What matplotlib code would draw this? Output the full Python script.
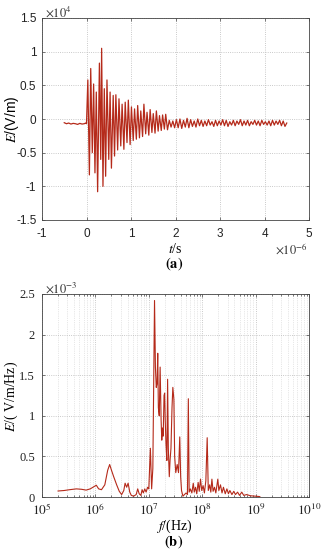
import math
import matplotlib
matplotlib.use("Agg")
import matplotlib.pyplot as plt
from matplotlib.ticker import FixedLocator, LogLocator, NullFormatter

# time-domain field, t in 1e-6 s, E in 1e4 V/m (extrema)
pre_t = [-0.50, -0.45, -0.40, -0.35, -0.30, -0.25, -0.20, -0.15, -0.10, -0.05, -0.02]
pre_e = [-0.055, -0.07, -0.06, -0.075, -0.065, -0.07, -0.08, -0.065, -0.075, -0.07, -0.06]

burst_t = [0.00, 0.03, 0.065, 0.095, 0.13, 0.16, 0.19, 0.22, 0.25, 0.29,
           0.32, 0.34, 0.37, 0.40, 0.43, 0.46, 0.50, 0.53, 0.56, 0.60,
           0.63, 0.66, 0.70, 0.73, 0.77, 0.80, 0.84, 0.87, 0.91, 0.94,
           0.98, 1.01, 1.05, 1.08, 1.12, 1.15, 1.19, 1.22, 1.26, 1.29,
           1.33, 1.36, 1.40, 1.43, 1.47, 1.50, 1.54, 1.57, 1.61, 1.64,
           1.68, 1.71, 1.75, 1.78, 1.82, 1.86, 1.90, 1.94, 1.98]
burst_e = [-0.07, 0.58, -0.83, 0.75, -0.50, 0.52, -0.80, 0.40, -1.08, 0.83,
           -0.60, 1.05, -1.00, 0.45, -0.85, 0.58, -0.60, 0.40, -0.73, 0.35,
           -0.55, 0.36, -0.46, 0.30, -0.40, 0.22, -0.45, 0.25, -0.35, 0.28,
           -0.38, 0.18, -0.32, 0.15, -0.30, 0.20, -0.28, 0.12, -0.26, 0.22,
           -0.22, 0.10, -0.24, 0.14, -0.20, 0.08, -0.21, 0.12, -0.18, 0.05,
           -0.17, 0.06, -0.15, 0.07, -0.16, -0.02, -0.12, -0.03, -0.13]

tail_t = [2.02, 2.06, 2.10, 2.14, 2.18, 2.22, 2.26, 2.30, 2.34, 2.38,
          2.42, 2.46, 2.50, 2.54, 2.58, 2.62, 2.66, 2.70, 2.74, 2.78,
          2.82, 2.86, 2.90, 2.94, 2.98, 3.02, 3.06, 3.10, 3.14, 3.18,
          3.22, 3.26, 3.30, 3.34, 3.38, 3.42, 3.46, 3.50, 3.54, 3.58,
          3.62, 3.66, 3.70, 3.74, 3.78, 3.82, 3.86, 3.90, 3.94, 3.98,
          4.02, 4.06, 4.10, 4.14, 4.18, 4.22, 4.26, 4.30, 4.34, 4.38,
          4.42, 4.46, 4.50]
tail_e = [-0.01, -0.13, 0.00, -0.14, -0.02, -0.12, 0.01, -0.13, -0.01, -0.11,
          -0.03, -0.12, 0.00, -0.10, -0.02, -0.11, -0.03, -0.10, -0.01, -0.09,
          -0.04, -0.11, -0.02, -0.10, -0.03, -0.09, -0.01, -0.10, -0.02, -0.11,
          -0.04, -0.09, -0.02, -0.10, -0.03, -0.08, -0.01, -0.10, -0.03, -0.09,
          -0.02, -0.10, -0.04, -0.08, -0.02, -0.09, -0.03, -0.10, -0.02, -0.08,
          -0.04, -0.09, -0.03, -0.10, -0.02, -0.09, -0.03, -0.08, -0.02, -0.10,
          -0.03, -0.11, -0.06]

# spectrum, f in Hz, amplitude in 1e-3 V/m/Hz
freq = [2.0e5, 2.6e5, 3.3e5, 4.4e5, 5.5e5, 6.7e5, 8.0e5, 9.0e5, 1.04e6, 1.15e6,
        1.3e6, 1.5e6, 1.7e6, 1.85e6, 2.0e6, 2.2e6, 2.5e6, 2.8e6, 3.1e6, 3.4e6,
        3.6e6, 3.85e6, 4.1e6, 4.4e6, 4.7e6, 5.2e6, 5.8e6, 6.2e6, 6.6e6, 7.1e6,
        7.5e6, 7.9e6, 8.4e6, 8.9e6, 9.5e6, 1.0e7, 1.07e7, 1.13e7, 1.19e7, 1.28e7,
        1.33e7, 1.38e7, 1.43e7, 1.47e7, 1.51e7, 1.57e7, 1.63e7, 1.70e7, 1.75e7, 1.80e7,
        1.86e7, 1.93e7, 1.98e7, 2.03e7, 2.10e7, 2.18e7, 2.25e7, 2.32e7, 2.42e7, 2.50e7,
        2.60e7, 2.72e7, 2.82e7, 2.95e7, 3.05e7, 3.20e7, 3.40e7, 3.60e7, 3.80e7, 3.95e7,
        4.10e7, 4.35e7, 4.65e7, 5.0e7, 5.3e7, 5.5e7, 5.7e7, 6.0e7, 6.4e7, 6.8e7,
        7.1e7, 7.5e7, 7.9e7, 8.4e7, 8.8e7, 9.3e7, 9.8e7, 1.04e8, 1.10e8, 1.17e8,
        1.24e8, 1.30e8, 1.38e8, 1.45e8, 1.52e8, 1.60e8, 1.70e8, 1.80e8, 1.96e8, 2.05e8,
        2.2e8, 2.35e8, 2.5e8, 2.7e8, 2.9e8, 3.1e8, 3.3e8, 3.6e8, 3.9e8, 4.2e8,
        4.6e8, 5.0e8, 5.5e8, 6.0e8, 6.8e8, 8.0e8, 1.0e9, 1.2e9]
amp = [0.074, 0.08, 0.09, 0.10, 0.095, 0.085, 0.10, 0.12, 0.145, 0.10,
       0.09, 0.15, 0.33, 0.40, 0.33, 0.25, 0.15, 0.07, 0.03, 0.08,
       0.17, 0.12, 0.17, 0.06, 0.02, 0.01, 0.03, 0.10, 0.04, 0.02,
       0.09, 0.05, 0.10, 0.06, 0.12, 0.10, 0.60, 0.10, 0.35, 2.42,
       1.60, 1.35, 1.40, 1.77, 1.10, 1.00, 1.60, 0.95, 0.70, 0.85,
       0.75, 1.25, 1.28, 0.95, 0.65, 0.45, 1.45, 0.60, 0.25, 0.45,
       0.60, 1.10, 1.35, 1.20, 0.50, 0.30, 0.40, 0.30, 0.74, 0.25,
       0.08, 0.01, 0.03, 0.05, 0.03, 1.21, 0.06, 0.10, 0.05, 0.17,
       0.06, 0.12, 0.04, 0.18, 0.07, 0.22, 0.08, 0.14, 0.05, 0.20,
       0.73, 0.08, 0.15, 0.06, 0.22, 0.07, 0.12, 0.05, 0.22, 0.08,
       0.15, 0.05, 0.12, 0.04, 0.10, 0.04, 0.08, 0.03, 0.07, 0.03,
       0.06, 0.02, 0.06, 0.02, 0.03, 0.015, 0.01, 0.005]

top_yticks = [-1.5, -1, -0.5, 0, 0.5, 1, 1.5]
top_xticks = [-1, 0, 1, 2, 3, 4, 5]
bot_yticks = [0, 0.5, 1, 1.5, 2, 2.5]
bot_xticks = [1e5, 1e6, 1e7, 1e8, 1e9, 1e10]

line_color = "#b52a1a"
grid_kw = dict(color="#b8b8b8", linestyle=":", linewidth=0.6)
sans = ["Liberation Sans", "DejaVu Sans"]
serif = ["Liberation Serif", "DejaVu Serif"]
plt.rcParams["mathtext.fontset"] = "stix"

W, H = 323, 550
fig = plt.figure(figsize=(W / 100, H / 100), dpi=100)

# (a) time domain
ax1 = fig.add_axes([42 / W, 1 - 220 / H, 267 / W, 202 / H])
t = pre_t + burst_t + tail_t
e = pre_e + burst_e + tail_e
ax1.plot(t, e, color=line_color, linewidth=0.9)
ax1.set_xlim(-1, 5)
ax1.set_ylim(-1.5, 1.5)
ax1.xaxis.set_major_locator(FixedLocator(top_xticks))
ax1.yaxis.set_major_locator(FixedLocator(top_yticks))
ax1.set_xticklabels(["%g" % v for v in top_xticks], family=sans, fontsize=8.5)
ax1.set_yticklabels(["%g" % v for v in top_yticks], family=sans, fontsize=8.5)
ax1.grid(True, **grid_kw)
ax1.set_axisbelow(True)
fig.text(45 / W, 1 - 12 / H, r"$\times10^{4}$", fontsize=9, ha="left", va="center",
         color="#333333")
fig.text(308 / W, 1 - 250 / H, r"$\times10^{-6}$", fontsize=9, ha="right", va="center",
         color="#333333")
fig.text(175 / W, 1 - 249 / H, r"$t$/s", family=serif, fontsize=10,
         ha="center", va="center")
fig.text(12 / W, 1 - 119 / H, r"$E$/(V/m)", family=sans, fontsize=10,
         ha="center", va="center", rotation=90)
fig.text(174 / W, 1 - 264 / H, r"$\mathbf{(a)}$", fontsize=10.5,
         ha="center", va="center")

# (b) spectrum
ax2 = fig.add_axes([42 / W, 1 - 497 / H, 267 / W, 203 / H])
ax2.plot(freq, amp, color=line_color, linewidth=0.8)
ax2.set_xscale("log")
ax2.set_xlim(1e5, 1e10)
ax2.set_ylim(0, 2.5)
ax2.xaxis.set_major_locator(FixedLocator(bot_xticks))
ax2.xaxis.set_minor_locator(LogLocator(base=10, subs=range(2, 10)))
ax2.xaxis.set_minor_formatter(NullFormatter())
ax2.set_xticklabels([r"$10^{%d}$" % round(math.log10(v)) for v in bot_xticks],
                    fontsize=9.5)
ax2.yaxis.set_major_locator(FixedLocator(bot_yticks))
ax2.set_yticklabels(["%g" % v for v in bot_yticks], family=serif, fontsize=9)
ax2.grid(True, which="major", **grid_kw)
ax2.grid(True, which="minor", axis="x", color="#d0d0d0", linestyle=":", linewidth=0.5)
ax2.set_axisbelow(True)
fig.text(45 / W, 1 - 288 / H, r"$\times10^{-3}$", fontsize=9, ha="left", va="center",
         color="#333333")
fig.text(174 / W, 1 - 526 / H, r"$f$/(Hz)", family=serif, fontsize=10,
         ha="center", va="center")
fig.text(11 / W, 1 - 396 / H, r"$E$/( V/m/Hz)", family=serif, fontsize=10,
         ha="center", va="center", rotation=90)
fig.text(174 / W, 1 - 542 / H, r"$\mathbf{(b)}$", fontsize=10.5,
         ha="center", va="center")

for ax in (ax1, ax2):
    for s in ax.spines.values():
        s.set_linewidth(0.6)
        s.set_color("#444444")
    ax.tick_params(which="both", direction="in", length=2.5, width=0.5,
                   colors="#444444", labelcolor="#222222", top=True, right=True)
    ax.tick_params(which="minor", length=1.5)
ax1.tick_params(axis="x", pad=6)
ax1.tick_params(axis="y", pad=4)
ax2.tick_params(axis="x", pad=4)
ax2.tick_params(axis="y", pad=5)

fig.savefig("out.png", dpi=100)
